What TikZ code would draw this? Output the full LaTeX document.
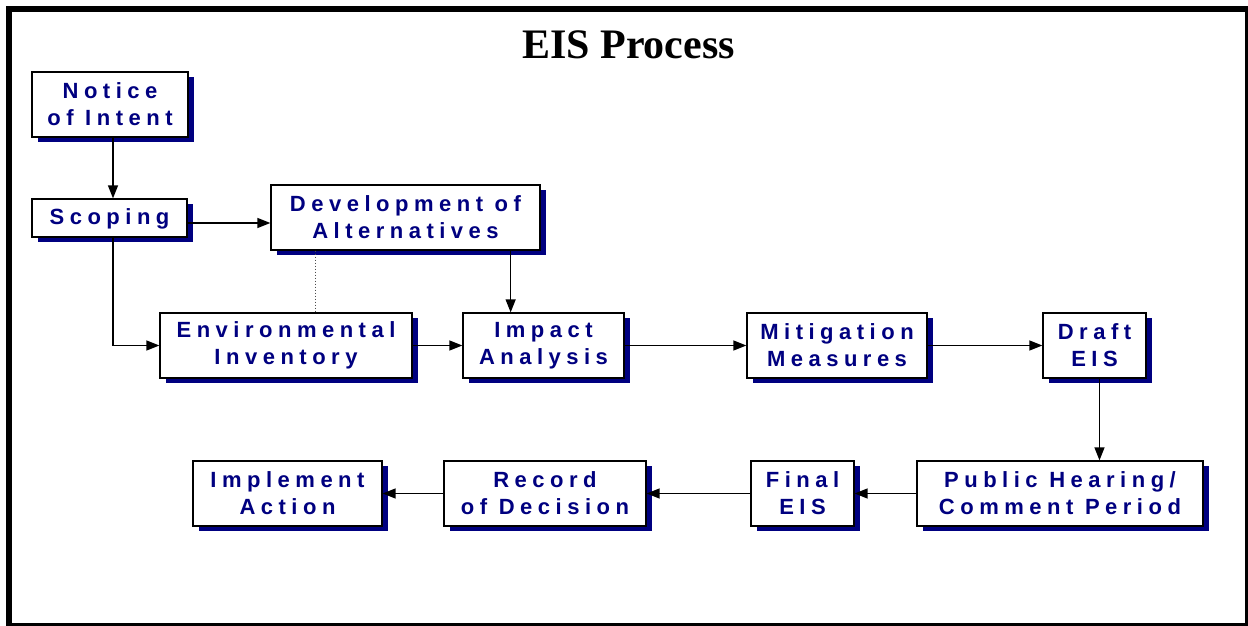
\documentclass[tikz,border=0pt]{standalone}
\usepackage{fontspec}
\setmainfont{Liberation Serif}
\newfontfamily\boxfont[LetterSpace=25]{Liberation Sans}
\usetikzlibrary{arrows.meta,shadows}
\definecolor{navy}{RGB}{0,0,128}
\tikzset{
  stage/.style={draw=black, line width=1.3pt, fill=white, align=center,
    text=navy, font=\boxfont\bfseries\fontsize{22}{27}\selectfont,
    inner sep=0pt, minimum height=65pt,
    drop shadow={shadow xshift=6pt, shadow yshift=-5pt, fill=navy, opacity=1}},
  flow/.style={->, line width=1.4pt}
}
\begin{document}
\begin{tikzpicture}[x=1pt, y=-1pt, >={Triangle[length=13pt,width=10pt]}]
        \useasboundingbox (0,0) rectangle (1248,626);
        \fill[white] (0,0) rectangle (1248,626);
        \draw[line width=6pt] (9,9) rectangle (1248,626);
        \node[anchor=base, font=\bfseries\fontsize{42}{50}\selectfont] (title) at (628.5,59) {EIS Process};
        \node[stage, minimum width=156pt] (notice) at (110,104.5) {Notice\\of Intent};
        \node[stage, minimum width=155pt, minimum height=38pt, text depth=2pt] (scoping) at (109.5,218) {Scoping};
        \node[stage, minimum width=269pt] (develop) at (405.5,217.5) {Development of\\Alternatives};
        \node[stage, minimum width=252pt] (environ) at (286,345.5) {Environmental\\Inventory};
        \node[stage, minimum width=161pt] (impact) at (543.5,345.5) {Impact\\Analysis};
        \node[stage, minimum width=180pt] (mitig) at (837,345.5) {Mitigation\\Measures};
        \node[stage, minimum width=103pt] (draft) at (1094.5,345.5) {Draft\\EIS};
        \node[stage, minimum width=286pt] (public) at (1060,493.5) {Public Hearing/\\Comment Period};
        \node[stage, minimum width=103pt] (final) at (802.5,493.5) {Final\\EIS};
        \node[stage, minimum width=202pt] (record) at (545,493.5) {Record\\of Decision};
        \node[stage, minimum width=189pt] (implement) at (287.5,493.5) {Implement\\Action};
        \coordinate (notdown) at ([xshift=3pt]notice.south);
        \coordinate (scopright) at ([yshift=-5pt]scoping.east);
        \coordinate (devleft) at ([xshift=45pt]develop.south west);
        \coordinate (devright) at ([xshift=-30pt]develop.south east);
        \coordinate (draftdown) at ([xshift=5pt]draft.south);
        \draw[flow] (notdown) -- (notdown |- scoping.north);
        \draw[flow] (scopright) -- (develop.west |- scopright);
        \draw[flow] (notdown |- scoping.south) |- (environ.west);
        \draw[black!70, dotted, line width=1pt] (devleft) -- (devleft |- environ.north);
        \draw[flow] (devright) -- (devright |- impact.north);
        \draw[flow] (environ.east) -- (impact.west);
        \draw[flow] (impact.east) -- (mitig.west);
        \draw[flow] (mitig.east) -- (draft.west);
        \draw[flow] (draftdown) -- (draftdown |- public.north);
        \draw[flow] (public.west) -- (final.east);
        \draw[flow] (final.west) -- (record.east);
        \draw[flow] (record.west) -- (implement.east);
      \end{tikzpicture}
\end{document}
